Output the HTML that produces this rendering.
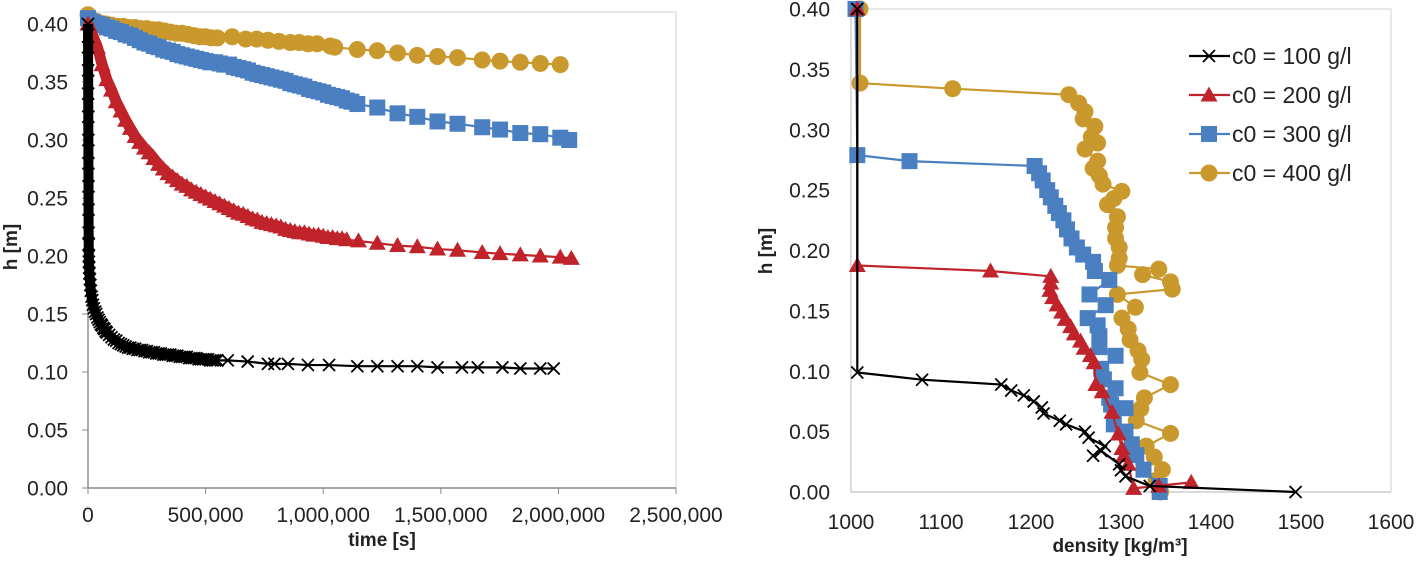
<!DOCTYPE html>
<html><head><meta charset="utf-8"><style>
html,body{margin:0;padding:0;background:#fff;}
svg{display:block;font-family:"Liberation Sans",Arial,sans-serif;}
</style></head><body>
<svg id="chart" width="1417" height="567" viewBox="0 0 1417 567" xmlns="http://www.w3.org/2000/svg"></svg>
<script>
// ---------- Left chart data (time [s] vs h [m]) ----------
const L_xTicks = [0, 500000, 1000000, 1500000, 2000000, 2500000];
const L_xTickLabels = ["0", "500,000", "1,000,000", "1,500,000", "2,000,000", "2,500,000"];
const L_yTicks = [0, 0.05, 0.1, 0.15, 0.2, 0.25, 0.3, 0.35, 0.4];
const L_yTickLabels = ["0.00","0.05","0.10","0.15","0.20","0.25","0.30","0.35","0.40"];
const t100 = [0,300,600,900,1200,1500,1800,2100,2400,2700,3000,3500,4000,5000,6000,8000,10000,12000,15000,18000,21000,25000,30000,35000,40000,45000,50000,55000,60000,65000,70000,75000,80000,90000,100000,110000,120000,130000,140000,150000,160000,170000,180000,190000,200000,210000,220000,230000,240000,250000,260000,270000,280000,290000,300000,310000,320000,330000,340000,350000,360000,370000,380000,390000,400000,410000,420000,430000,440000,450000,460000,470000,480000,490000,500000,510000,520000,530000,540000,550000,594000,679000,765000,793000,850000,935000,1025000,1145000,1230000,1316000,1400000,1486000,1590000,1657000,1762000,1838000,1923000,1980000];
const h100 = [0.40,0.38,0.36,0.34,0.32,0.30,0.28,0.26,0.24,0.22,0.21,0.20,0.195,0.19,0.185,0.18,0.175,0.17,0.165,0.162,0.158,0.155,0.152,0.15,0.147,0.145,0.143,0.141,0.14,0.138,0.137,0.135,0.134,0.132,0.13,0.128,0.127,0.125,0.124,0.123,0.122,0.121,0.121,0.12,0.12,0.119,0.119,0.119,0.118,0.118,0.117,0.117,0.117,0.116,0.116,0.116,0.115,0.115,0.115,0.115,0.114,0.114,0.114,0.113,0.113,0.113,0.113,0.112,0.112,0.112,0.112,0.111,0.111,0.111,0.111,0.111,0.11,0.11,0.11,0.11,0.11,0.109,0.107,0.107,0.107,0.106,0.106,0.105,0.105,0.105,0.105,0.104,0.104,0.104,0.104,0.103,0.103,0.103];
const t200 = [0,20000,40000,60000,80000,100000,120000,140000,160000,180000,200000,220000,240000,260000,280000,300000,320000,340000,360000,380000,400000,420000,440000,460000,480000,500000,520000,540000,560000,580000,600000,620000,640000,660000,680000,700000,720000,740000,760000,780000,800000,820000,840000,860000,880000,900000,920000,940000,960000,980000,1000000,1020000,1040000,1060000,1080000,1100000,1150000,1230000,1316000,1400000,1486000,1571000,1676000,1752000,1838000,1923000,2008000,2055000];
const h200 = [0.40,0.39,0.38,0.365,0.352,0.343,0.333,0.325,0.317,0.31,0.303,0.298,0.293,0.289,0.284,0.279,0.275,0.271,0.268,0.265,0.262,0.26,0.257,0.255,0.253,0.251,0.249,0.247,0.245,0.243,0.241,0.239,0.237,0.236,0.234,0.232,0.231,0.229,0.228,0.227,0.226,0.225,0.223,0.222,0.221,0.22,0.22,0.219,0.218,0.218,0.217,0.216,0.216,0.215,0.215,0.214,0.213,0.211,0.209,0.208,0.206,0.205,0.203,0.202,0.201,0.2,0.199,0.198];
const t300 = [0,20000,40000,60000,80000,100000,120000,140000,160000,180000,200000,220000,240000,260000,280000,300000,320000,340000,360000,380000,400000,420000,440000,460000,480000,500000,520000,540000,560000,580000,600000,620000,640000,660000,680000,700000,720000,740000,760000,780000,800000,820000,840000,860000,880000,900000,920000,940000,960000,980000,1000000,1020000,1040000,1060000,1080000,1100000,1120000,1145000,1230000,1316000,1400000,1486000,1571000,1676000,1752000,1838000,1923000,2008000,2046000];
const h300 = [0.405,0.402,0.40,0.399,0.397,0.396,0.394,0.393,0.391,0.39,0.388,0.386,0.384,0.383,0.381,0.38,0.378,0.377,0.376,0.374,0.373,0.372,0.371,0.37,0.369,0.368,0.367,0.367,0.366,0.365,0.365,0.363,0.362,0.361,0.36,0.358,0.357,0.356,0.355,0.354,0.353,0.352,0.351,0.349,0.348,0.347,0.346,0.344,0.343,0.342,0.341,0.339,0.338,0.337,0.336,0.334,0.333,0.331,0.328,0.323,0.32,0.316,0.314,0.311,0.309,0.306,0.305,0.302,0.30];
const t400 = [0,25000,50000,75000,100000,125000,150000,175000,200000,225000,250000,275000,300000,325000,350000,375000,400000,425000,450000,475000,500000,525000,550000,613000,670000,717000,765000,812000,860000,898000,936000,974000,1030000,1049000,1145000,1230000,1316000,1400000,1486000,1571000,1676000,1752000,1838000,1923000,2008000];
const h400 = [0.408,0.403,0.401,0.40,0.399,0.398,0.398,0.397,0.397,0.396,0.396,0.395,0.395,0.394,0.393,0.392,0.392,0.391,0.39,0.389,0.389,0.388,0.388,0.389,0.387,0.387,0.386,0.385,0.384,0.384,0.383,0.383,0.381,0.38,0.378,0.377,0.375,0.373,0.372,0.371,0.369,0.368,0.367,0.366,0.365];

// ---------- Right chart data (density vs h) ----------
const R_xTicks = [1000,1100,1200,1300,1400,1500,1600];
const R_xTickLabels = ["1000","1100","1200","1300","1400","1500","1600"];
const R_yTicks = [0,0.05,0.1,0.15,0.2,0.25,0.3,0.35,0.4];
const R_yTickLabels = ["0.00","0.05","0.10","0.15","0.20","0.25","0.30","0.35","0.40"];
const d100 = [1007,1007,1079,1167,1178,1192,1203,1212,1214,1232,1239,1260,1264,1282,1269,1278,1298,1300,1305,1332,1494];
const z100 = [0.40,0.099,0.093,0.089,0.084,0.080,0.075,0.070,0.065,0.059,0.056,0.050,0.045,0.038,0.030,0.034,0.023,0.018,0.013,0.005,0.0];
const d200 = [1007,1007,1155,1222,1222,1221,1224,1229,1234,1238,1244,1248,1255,1259,1266,1270,1272,1279,1290,1297,1301,1303,1308,1314,1378,1342];
const z200 = [0.40,0.1876,0.183,0.1786,0.173,0.167,0.161,0.155,0.149,0.143,0.137,0.131,0.125,0.119,0.113,0.107,0.089,0.083,0.066,0.048,0.036,0.030,0.023,0.003,0.008,0.005];
const d300 = [1005,1007,1065,1204,1209,1213,1218,1222,1227,1231,1236,1240,1245,1251,1258,1269,1271,1287,1265,1283,1263,1274,1276,1276,1294,1278,1281,1294,1287,1289,1305,1292,1305,1312,1317,1325,1343,1343];
const z300 = [0.40,0.279,0.274,0.270,0.264,0.258,0.250,0.244,0.237,0.231,0.225,0.2175,0.21,0.2025,0.1966,0.1906,0.183,0.1756,0.1636,0.1547,0.144,0.138,0.129,0.120,0.1128,0.102,0.0933,0.0859,0.078,0.0724,0.0694,0.056,0.050,0.0395,0.0305,0.0185,0.005,0.0];
const d400 = [1010,1010,1113,1242,1253,1260,1258,1271,1267,1274,1260,1274,1269,1276,1280,1301,1292,1285,1296,1294,1294,1298,1298,1296,1342,1324,1355,1357,1296,1316,1301,1308,1310,1319,1323,1321,1355,1326,1322,1317,1355,1328,1337,1346,1339,1344];
const z400 = [0.40,0.3386,0.334,0.329,0.322,0.315,0.309,0.3028,0.294,0.289,0.284,0.274,0.268,0.262,0.255,0.249,0.243,0.238,0.228,0.219,0.210,0.2025,0.1936,0.1876,0.1846,0.180,0.174,0.168,0.1636,0.153,0.144,0.135,0.126,0.117,0.1098,0.099,0.0889,0.078,0.069,0.059,0.0485,0.038,0.029,0.0185,0.0096,0.0];
const legendLabels = ["c0 = 100 g/l","c0 = 200 g/l","c0 = 300 g/l","c0 = 400 g/l"];

const COLORS = ["#000000","#c0232a","#4a7fc1","#c9992e"];
const MARKERS = ["x","tri","sq","circ"];
const NS = "http://www.w3.org/2000/svg";
const svg = document.getElementById("chart");
function mk(tag, attrs, parent){
  const e = document.createElementNS(NS, tag);
  for (const k in attrs) e.setAttribute(k, attrs[k]);
  (parent||svg).appendChild(e);
  return e;
}
function marker(type, x, y, color, g){
  let e;
  if (type === "x") {
    e = mk("path", {d:`M${x-6},${y-6}L${x+6},${y+6}M${x-6},${y+6}L${x+6},${y-6}`, stroke:color, "stroke-width":1.8, fill:"none"}, g);
  } else if (type === "tri") {
    e = mk("polygon", {points:`${x},${y-8.5} ${x+8.5},${y+6.5} ${x-8.5},${y+6.5}`, fill:color}, g);
  } else if (type === "sq") {
    e = mk("rect", {x:x-8, y:y-8, width:16, height:16, fill:color}, g);
  } else {
    e = mk("circle", {cx:x, cy:y, r:8.5, fill:color}, g);
  }
  
  
  return e;
}
function drawAxes(p, xTicks, xLabels, yTicks, yLabels, prefix, ticks, axisColor, xBase){
  const frame = mk("rect", {x:p.x0, y:p.top, width:p.x1-p.x0, height:p.y0-p.top, fill:"none", stroke:"#d9d9d9", "stroke-width":1.2});
  
  
  const ax = mk("g", {});
  
  
  mk("line", {x1:p.x0, y1:p.top, x2:p.x0, y2:p.y0, stroke:axisColor, "stroke-width":1.4}, ax);
  mk("line", {x1:p.x0, y1:p.y0, x2:p.x1, y2:p.y0, stroke:axisColor, "stroke-width":1.4}, ax);
  yTicks.forEach((v,i)=>{
    const y = p.sy(v);
    if (ticks) mk("line", {x1:p.x0-6, y1:y, x2:p.x0, y2:y, stroke:axisColor}, ax);
    const t = mk("text", {x:p.yLabRight, y:y+7.5, "text-anchor":"end", "font-size":21, fill:"#222"}, ax);
    t.textContent = yLabels[i];
    
    
  });
  xTicks.forEach((v,i)=>{
    const x = p.sx(v);
    if (ticks) mk("line", {x1:x, y1:p.y0, x2:x, y2:p.y0+6, stroke:axisColor}, ax);
    const t = mk("text", {x:x, y:xBase, "text-anchor":"middle", "font-size":21, fill:"#222"}, ax);
    t.textContent = xLabels[i];
    
    
  });
}
// denseUntil: x-value up to which the original markers overlap into a solid band
function drawSeries(p, xs, ys, idx, name, denseUntil, bandWidth){
  const g = mk("g", {});
  
  
  const pts = xs.map((v,i)=>p.sx(v)+","+p.sy(ys[i])).join(" ");
  if (denseUntil !== undefined) {
    const dpts = xs.map((v,i)=>[v,ys[i]]).filter(d=>d[0]<=denseUntil).map(d=>p.sx(d[0])+","+p.sy(d[1])).join(" ");
    mk("polyline", {points:dpts, fill:"none", stroke:COLORS[idx], "stroke-width":bandWidth, "stroke-linejoin":"round"}, g);
  }
  mk("polyline", {points:pts, fill:"none", stroke:COLORS[idx], "stroke-width":2.2}, g);
  xs.forEach((v,i)=>marker(MARKERS[idx], p.sx(v), p.sy(ys[i]), COLORS[idx], g));
}

// Left chart
const PL = {x0:88, x1:676, y0:488, top:12, yLabRight:68};
PL.sx = v => PL.x0 + v/2500000*(PL.x1-PL.x0);
PL.sy = v => PL.y0 - v/0.1*116;
drawAxes(PL, L_xTicks, L_xTickLabels, L_yTicks, L_yTickLabels, "left", true, "#8a8a8a", 522);
drawSeries(PL, t400, h400, 3, "left-series-400", 550000, 14);
drawSeries(PL, t300, h300, 2, "left-series-300", 1145000, 13);
drawSeries(PL, t200, h200, 1, "left-series-200", 1100000, 11);
drawSeries(PL, t100, h100, 0, "left-series-100", 550000, 10);

// Right chart
const PR = {x0:851, x1:1391, y0:492, top:9, yLabRight:830};
PR.sx = v => PR.x0 + (v-1000)/600*(PR.x1-PR.x0);
PR.sy = v => PR.y0 - v/0.4*(PR.y0-PR.top);
drawAxes(PR, R_xTicks, R_xTickLabels, R_yTicks, R_yTickLabels, "right", false, "#cfcfcf", 529);
drawSeries(PR, d400, z400, 3, "right-series-400");
drawSeries(PR, d300, z300, 2, "right-series-300");
drawSeries(PR, d200, z200, 1, "right-series-200");
drawSeries(PR, d100, z100, 0, "right-series-100");

// Legend
const lg = mk("g", {});


legendLabels.forEach((lab,i)=>{
  const y = 56 + i*39;
  const e = mk("g", {}, lg);
  
  
  mk("line", {x1:1189, y1:y, x2:1230, y2:y, stroke:COLORS[i], "stroke-width":2.2}, e);
  marker(MARKERS[i], 1209, y, COLORS[i], e);
  const t = mk("text", {x:1232, y:y+8, "font-size":23, fill:"#222"}, e);
  t.textContent = lab;
});
</script>
<div style="position:absolute;left:0;top:0;width:1417px;height:567px;pointer-events:none;">
  <div style="position:absolute;left:-18px;top:236px;width:60px;text-align:center;transform:rotate(-90deg);font:bold 19px 'Liberation Sans',sans-serif;color:#222;">h [m]</div>
  <div style="position:absolute;left:302px;top:530px;width:160px;text-align:center;font:bold 19px 'Liberation Sans',sans-serif;color:#222;">time [s]</div>
  <div style="position:absolute;left:737px;top:240px;width:60px;text-align:center;transform:rotate(-90deg);font:bold 19px 'Liberation Sans',sans-serif;color:#222;">h [m]</div>
  <div style="position:absolute;left:1000px;top:536px;width:240px;text-align:center;font:bold 19px 'Liberation Sans',sans-serif;color:#222;">density [kg/m³]</div>
</div>
</body></html>
